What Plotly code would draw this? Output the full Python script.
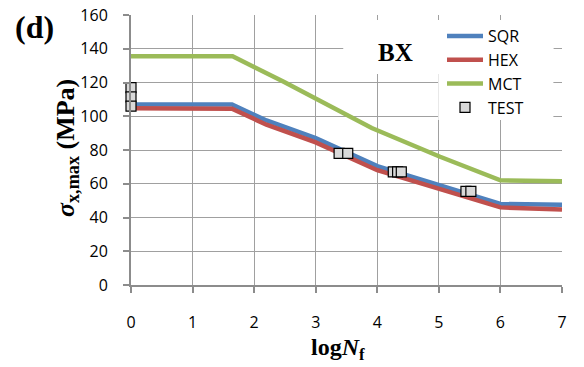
import plotly.graph_objects as go

# Fatigue curves (max stress vs. log cycles to failure)
sqr_logn = [0, 1.64, 2.2, 3.0, 4.0, 5.0, 6.0, 7.0]
sqr_stress = [107, 107, 97.5, 87, 70.5, 59.3, 48, 47.5]

hex_logn = [0, 1.64, 2.2, 3.0, 4.0, 5.0, 6.0, 7.0]
hex_stress = [104.7, 104.5, 95, 84.5, 68, 56.7, 46, 44.8]

mct_logn = [0, 1.65, 2.48, 3.91, 5.02, 6.0, 7.0]
mct_stress = [135.5, 135.5, 120.5, 93, 76, 62, 61.5]

test_logn = [0, 0, 0, 3.38, 3.52, 4.26, 4.33, 4.39, 5.44, 5.52]
test_stress = [117, 111.5, 106, 78, 78, 67, 67, 67, 55.5, 55.5]

x_ticks = [0, 1, 2, 3, 4, 5, 6, 7]
y_ticks = [0, 20, 40, 60, 80, 100, 120, 140, 160]

W, H = 584, 367
L, R, T, B = 131, 22, 15, 82
PW, PH = W - L - R, H - T - B


def px(x):
    return (x - L) / PW


def py(y):
    return 1 - (y - T) / PH


TICK_FONT = dict(family="Open Sans", size=16, color="#000000")
SERIF = "Liberation Serif"

fig = go.Figure()

fig.add_trace(go.Scatter(x=sqr_logn, y=sqr_stress, mode="lines", name="SQR",
                         legendgroup="a",
                         line=dict(color="#4F81BD", width=4.5)))
fig.add_trace(go.Scatter(x=hex_logn, y=hex_stress, mode="lines", name="HEX",
                         legendgroup="b",
                         line=dict(color="#C0504D", width=4.5)))
fig.add_trace(go.Scatter(x=mct_logn, y=mct_stress, mode="lines", name="MCT",
                         legendgroup="c",
                         line=dict(color="#9BBB59", width=4.5)))
fig.add_trace(go.Scatter(x=test_logn, y=test_stress, mode="markers", name="TEST",
                         legendgroup="d", cliponaxis=False,
                         marker=dict(symbol="square", size=10, color="#D9D9D9",
                                     line=dict(color="#000000", width=1.2))))

# white panels behind the label and legend, hiding the grid there
fig.add_shape(type="rect", xref="x", yref="y", layer="between",
              x0=3.447, x1=6.86, y0=125, y1=157,
              fillcolor="white", line=dict(width=0))
fig.add_shape(type="rect", xref="x", yref="y", layer="between",
              x0=4.99, x1=6.86, y0=97.8, y1=157,
              fillcolor="white", line=dict(width=0))

axis_common = dict(
    showgrid=True, gridcolor="#A0A0A0", gridwidth=1.3,
    showline=True, linecolor="#8C8C8C", linewidth=2,
    ticks="outside", ticklen=6, tickcolor="#8C8C8C", tickwidth=1.5,
    tickfont=TICK_FONT, zeroline=False, fixedrange=True, automargin=False,
)

fig.update_xaxes(range=[0, 7], tickvals=x_ticks, ticktext=[str(v) for v in x_ticks],
                 ticklabelstandoff=16, **axis_common)
fig.update_yaxes(range=[0, 160], tickvals=y_ticks, ticktext=[str(v) for v in y_ticks],
                 ticklabelstandoff=12, **axis_common)


def label(text, x, y, size, angle=0):
    return dict(text=text, xref="paper", yref="paper", x=px(x), y=py(y),
                xanchor="center", yanchor="middle", showarrow=False,
                textangle=angle, font=dict(family=SERIF, size=size, color="#000000"))


fig.update_layout(
    width=W, height=H,
    margin=dict(l=L, r=R, t=T, b=B, autoexpand=False),
    paper_bgcolor="white", plot_bgcolor="white",
    showlegend=True,
    legend=dict(x=px(442), y=py(19), xanchor="left", yanchor="top",
                bgcolor="rgba(0,0,0,0)", font=TICK_FONT,
                tracegroupgap=0, itemwidth=36),
    annotations=[
        label("<b>(d)</b>", 34, 27, 32),
        label("<b>BX</b>", 395, 53, 25),
        label("<b><i>σ</i><sub>x,max</sub> (MPa)</b>", 67, 148, 26, -90),
        label("<b>log<i>N</i><sub>f</sub></b>", 338, 349, 24),
    ],
)

fig.write_html("out.html")
